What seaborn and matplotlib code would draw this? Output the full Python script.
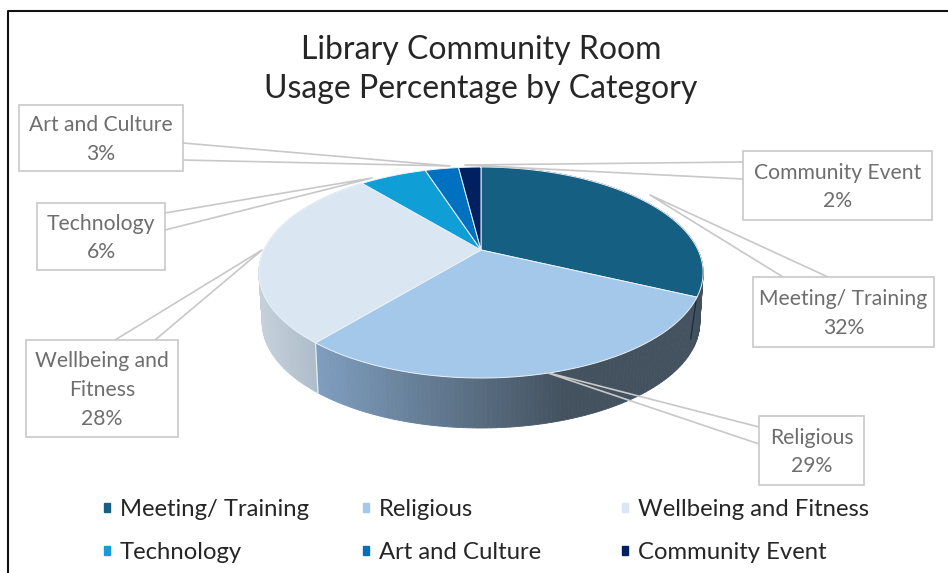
import numpy as np
import seaborn as sns
import matplotlib
matplotlib.use("Agg")
import matplotlib.pyplot as plt
from matplotlib.lines import Line2D
from matplotlib.patches import Patch, Rectangle
from matplotlib.path import Path
from matplotlib.transforms import Transform

categories = ["Meeting/ Training", "Religious", "Wellbeing and Fitness", "Technology", "Art and Culture", "Community Event"]
shares = [32, 29, 28, 6, 3, 2]
box_names = ["Meeting/ Training", "Religious", "Wellbeing and\nFitness", "Technology", "Art and Culture", "Community Event"]
slice_colors = ["#156082", "#A3C8EA", "#DAE6F2", "#0F9ED5", "#0070C0", "#002060"]

# label boxes in pixels: left, top, right, bottom
boxes = [(753, 277, 934, 347), (759, 416, 864, 485), (26, 340, 178, 437),
         (37, 203, 165, 270), (19, 105, 183, 171), (743, 151, 932, 220)]
# leader lines: two start points on the box, one end point at the pie
leaders = [((828, 277), (783, 277), (650, 195)), ((759, 427), (759, 444), (545, 372)),
           ((115, 340), (155, 340), (262, 250)), ((165, 213), (165, 230), (372, 178)),
           ((183, 143), (183, 160), (450, 166)), ((743, 162), (743, 179), (465, 165))]

CX, CY = 481, 250
K = 0.2133
A, B = 100.7, 217.0
DEPTH = 50


class Tilt(Transform):
    # perspective view of the unit disc
    input_dims = output_dims = 2

    def transform_non_affine(self, values):
        x, y = np.asarray(values).T
        w = 1 + K * y
        return np.column_stack([CX + B * x / w, CY - A * y / w])

    def transform_path_non_affine(self, path):
        # flatten the arc at a large scale, otherwise it comes out in coarse segments
        big = Path(path.vertices * 2000, path.codes)
        poly = big.to_polygons(closed_only=False)[0] / 2000
        return Path(self.transform_non_affine(poly))


def wall_color(frac, name):
    # side wall shading runs left to right, like the chart's lighting
    stops = {"Wellbeing and Fitness": ["#C6D1DB", "#AEBDCA"],
             "Religious": ["#7F9FC0", "#445260"],
             "Meeting/ Training": ["#434F5D", "#434F5D"]}[name]
    lo, hi = np.array(matplotlib.colors.to_rgb(stops[0])), np.array(matplotlib.colors.to_rgb(stops[1]))
    return lo + (hi - lo) * frac


sns.set_theme(style="white")
plt.rcParams["font.family"] = ["Lato", "DejaVu Sans"]

fig = plt.figure(figsize=(9.48, 5.73), dpi=100)
ax = fig.add_axes([0, 0, 1, 1])

wedges, _ = ax.pie(shares, colors=sns.color_palette(slice_colors), startangle=90, counterclock=False,
                   wedgeprops={"edgecolor": "#EAF1F8", "linewidth": 0.7, "zorder": 5})
ax.set_aspect("auto")
ax.set_xlim(0, 948)
ax.set_ylim(573, 0)
ax.axis("off")

tilt = Tilt()
for w in wedges:
    w.set_transform(tilt + ax.transData)

# SIDE WALL
edges = np.cumsum([0] + shares) * 3.6
tilt_pts = lambda t: tilt.transform_non_affine(np.column_stack([np.sin(np.radians(t)), np.cos(np.radians(t))]))
for i in range(3):
    steps = np.linspace(edges[i], edges[i + 1], int(edges[i + 1] - edges[i]) + 2)
    top = tilt_pts(steps)
    low = top.copy()
    low[:, 0] = CX + (low[:, 0] - CX) * 0.985
    low[:, 1] += DEPTH
    if categories[i] == "Religious":
        frac = np.clip((top[:, 0] - 316) / (565 - 316), 0, 1)
    elif categories[i] == "Wellbeing and Fitness":
        frac = np.clip((top[:, 0] - 258) / (316 - 258), 0, 1)
    else:
        frac = np.zeros(len(top))
    for j in range(len(steps) - 1):
        quad = np.vstack([top[j:j + 2], low[j:j + 2][::-1]])
        c = wall_color(frac[j], categories[i])
        ax.fill(quad[:, 0], quad[:, 1], color=c, lw=0.6, zorder=2)
    if categories[i] == "Religious":
        ax.plot([top[-1, 0], low[-1, 0]], [top[-1, 1], low[-1, 1]], color="#E6EDF3", lw=0.9, zorder=3)
    if categories[i] == "Meeting/ Training":
        # dark cut face just visible at the right end of this slice
        ax.plot([top[-1, 0] - 1, low[-1, 0] - 3], [top[-1, 1] + 4, low[-1, 1] - 8], color="#17313F", lw=1.0, zorder=3)

# LEADERS AND LABEL BOXES
for (p1, p2, tip), (l, t, r, b), name, share in zip(leaders, boxes, box_names, shares):
    ax.add_line(Line2D([p1[0], tip[0], p2[0]], [p1[1], tip[1], p2[1]], color="#C8C8C8", lw=1.2, zorder=6))
    ax.add_patch(Rectangle((l, t), r - l, b - t, fc="white", ec="#C8C8C8", lw=1.2, zorder=7))
    ax.text((l + r) / 2, (t + b) / 2 + 1.5, f"{name}\n{share}%", ha="center", va="center", fontsize=15.2,
            color="#6E6E6E", linespacing=1.55, zorder=8)

ax.text(481, 69.5, "Library Community Room\nUsage Percentage by Category", ha="center", va="center", fontsize=23,
        color="#262626", linespacing=1.36)

# LEGEND, one per column so the columns stay evenly spaced
for col in range(3):
    handles = [Patch(color=slice_colors[col]), Patch(color=slice_colors[col + 3])]
    leg = ax.legend(handles, [categories[col], categories[col + 3]], loc="center left", frameon=False,
                    bbox_to_anchor=(104 + 259 * col, 531), bbox_transform=ax.transData, fontsize=17.2,
                    handlelength=0.24, handleheight=0.24, handletextpad=0.42, labelspacing=0.92, borderpad=0,
                    borderaxespad=0, labelcolor="#262626")
    if col < 2:
        ax.add_artist(leg)

# FRAME OF THE ORIGINAL SCREENSHOT
ax.plot([8, 8, 948], [573, 11, 11], color="#111111", lw=1.5, clip_on=False, zorder=1)

fig.savefig("out.png", dpi=100, facecolor="white")
